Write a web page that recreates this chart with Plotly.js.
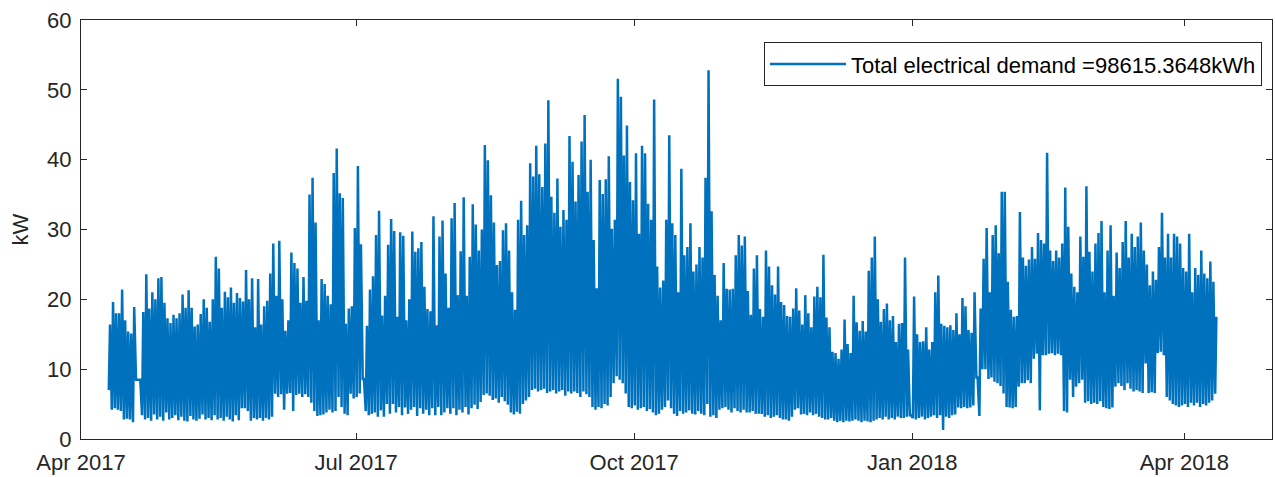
<!DOCTYPE html>
<html><head><meta charset="utf-8">
<script src="https://cdn.plot.ly/plotly-3.0.1.min.js"></script>
<style>html,body{margin:0;padding:0;background:#fff;} #chart{width:1275px;height:477px;}</style>
</head><body><div id="chart"></div>
<script>
// First day of the readings; one peak and one minimum value per day (kW)
const startDate = '2017-04-10';
const dailyPeak = [
16.4,19.6,18.0,18.0,21.4,17.0,15.4,15.1,18.9,
8.5,8.5,
18.2,23.6,18.7,21.0,20.0,23.0,23.2,19.5,17.3,16.6,
17.8,17.3,18.0,20.7,18.8,21.3,18.8,16.1,16.4,17.9,
20.0,18.8,16.8,20.0,26.1,24.4,18.8,21.1,20.3,21.7,
19.5,20.9,20.2,
19.7,24.2,20.0,23.0,16.0,22.9,16.4,
19.0,19.8,23.7,28.0,20.5,28.4,20.0,15.5,17.0,26.7,
25.2,24.4,19.5,23.2,19.8,35.0,37.4,31.0,17.0,22.9,
22.2,20.5,19.3,38.1,41.6,35.2,34.5,16.5,18.7,19.0,
30.2,39.1,27.9,
8.6,
16.2,21.4,23.3,29.2,32.7,
17.7,20.5,27.8,31.5,29.8,17.5,29.6,29.1,17.0,20.0,29.7,
26.8,27.3,28.2,21.8,18.6,18.3,31.9,16.3,29.0,31.3,
23.7,18.8,31.6,33.8,20.6,26.9,34.6,20.5,26.1,33.6,
30.7,27.0,30.0,42.1,39.9,34.9,31.0,24.9,25.5,29.9,
30.9,27.0,21.0,18.5,31.4,34.1,
29.2,30.6,39.5,37.6,42.0,37.9,36.1,42.3,48.5,34.7,
32.4,37.3,30.4,32.8,31.4,43.4,39.7,34.0,37.8,42.6,
46.4,35.4,40.0,28.5,21.6,37.1,35.1,37.2,40.5,30.1,
31.4,51.6,49.0,40.6,44.9,36.8,34.2,40.9,29.4,42.0,
40.9,33.7,31.4,48.6,24.7,21.7,
22.7,31.4,43.5,30.9,29.2,21.0,38.7,26.3,27.5,30.9,
24.0,25.0,27.5,26.0,37.4,52.8,32.6,23.5,20.5,17.0,
25.2,21.5,21.4,21.5,26.3,29.2,27.7,29.0,21.2,17.8,
24.4,26.3,18.6,17.5,27.0,24.7,22.0,20.7,24.7,19.6,
19.2,17.6,17.5,18.7,21.6,18.4,
16.4,20.6,18.0,16.0,20.4,21.8,20.3,26.4,17.4,16.0,
12.5,12.3,11.5,12.8,17.1,13.6,12.3,20.5,16.7,15.5,
16.9,15.4,24.1,26.0,29.0,20.0,16.8,18.6,19.4,17.0,
17.6,13.9,16.5,16.6,26.0,12.8,
3.4,
20.4,15.0,13.9,14.0,16.0,12.8,13.9,21.0,23.4,16.5,
16.2,16.0,16.3,15.6,18.0,15.0,20.2,19.0,15.6,15.2,21.0,
8.8,
18.7,25.8,30.2,21.0,29.2,30.6,26.6,35.4,35.4,22.5,
18.5,17.5,17.6,32.5,26.0,24.8,25.7,27.5,25.8,29.5,
28.5,28.0,41.0,27.0,25.5,27.0,26.0,28.0,36.0,30.4,
23.7,21.8,21.0,29.0,
26.1,36.2,26.8,24.0,28.0,29.5,31.2,21.0,27.0,30.6,
20.5,26.7,24.5,28.2,31.2,26.0,29.4,27.5,29.0,31.0,
27.0,25.0,22.0,24.0,22.8,27.5,32.4,26.0,29.4,26.0,
29.4,29.0,28.0,24.5,24.0,29.4,21.0,24.5,23.5,27.0,
23.7,23.0,25.4,22.5,17.5
];
const dailyMin = [
7.0,4.2,4.4,4.2,4.0,2.8,2.9,2.8,2.4,
8.5,8.5,
3.4,2.8,3.0,2.6,3.5,2.8,3.2,2.6,3.8,2.8,
3.0,3.4,2.7,3.2,2.6,2.5,3.3,2.8,2.6,2.9,
3.5,2.8,3.0,2.7,3.4,2.8,3.0,2.6,3.2,2.8,
2.5,3.4,2.7,
4.4,4.4,4.0,2.6,3.0,2.8,3.0,
2.6,3.0,2.8,3.2,6.5,6.0,6.4,4.2,6.5,6.6,
4.0,6.3,6.5,6.0,6.4,6.0,5.2,4.0,3.3,3.4,
3.5,3.8,4.2,3.8,4.0,6.0,4.6,3.6,3.4,6.5,
5.8,6.0,6.5,
8.6,
4.0,3.4,3.6,3.8,3.2,
4.1,3.2,5.0,3.6,5.0,3.8,4.6,3.4,4.5,3.6,4.2,
4.6,3.3,4.4,3.6,4.2,3.4,4.4,3.4,4.6,3.4,
3.8,4.4,3.6,4.4,3.4,4.2,3.8,4.6,3.5,4.4,
4.9,4.3,5.3,6.3,6.5,6.2,5.6,5.8,5.2,6.0,
5.4,4.9,3.8,3.5,3.9,3.6,
5.0,5.5,6.0,7.0,7.2,6.8,7.0,7.2,6.6,6.8,
7.0,6.5,6.8,7.0,6.2,6.8,6.5,6.8,6.6,6.0,
6.8,6.4,6.0,4.6,4.2,4.6,4.4,5.0,4.8,6.0,
8.0,9.0,8.5,8.0,6.5,4.6,4.4,4.8,4.2,4.4,
4.6,4.0,4.3,3.8,3.4,3.6,
4.2,4.6,5.5,4.4,3.6,3.3,4.0,3.6,3.8,4.1,
3.6,3.5,4.0,3.6,3.4,5.0,3.2,3.4,3.0,4.2,
4.4,4.6,4.2,3.8,4.4,4.0,3.8,4.2,3.8,3.8,
4.0,3.6,3.6,3.6,3.2,3.4,3.0,3.2,3.4,3.0,
2.8,2.8,2.6,3.2,4.2,4.4,
3.5,3.6,3.4,3.8,3.4,3.6,3.2,3.0,2.8,2.8,
3.0,2.6,2.4,2.6,2.4,2.6,2.5,2.6,2.8,2.6,
2.4,2.6,2.5,2.4,2.6,2.8,3.0,2.8,3.2,2.8,
3.0,2.8,3.2,3.0,3.0,3.2,
3.4,
3.0,2.8,3.0,3.2,2.8,3.0,3.2,3.4,3.0,3.4,
1.3,3.2,3.0,3.4,3.5,4.5,4.4,4.6,4.4,4.5,4.8,
8.8,
3.3,10.0,10.0,8.6,8.8,8.2,8.0,7.6,6.5,4.6,
4.5,4.4,4.6,7.5,8.0,8.0,8.4,8.0,11.5,12.2,
4.1,12.0,12.0,12.2,12.3,12.0,12.2,12.0,4.0,3.8,
8.5,6.0,7.5,8.0,
8.5,5.2,5.4,5.0,5.2,5.0,5.4,4.6,4.4,4.3,
4.5,7.5,8.0,7.6,7.0,8.0,7.2,6.8,7.0,6.8,
6.6,10.8,6.6,6.7,6.6,12.3,12.5,12.0,6.0,5.5,
5.0,4.8,4.6,4.8,5.0,4.6,5.2,4.8,5.2,4.6,
5.0,4.8,5.2,5.5,6.5
];
const tickDates = ['2017-04-01','2017-07-01','2017-10-01','2018-01-01','2018-04-01'];
const tickLabels = ['Apr 2017','Jul 2017','Oct 2017','Jan 2018','Apr 2018'];
const seriesName = 'Total electrical demand =98615.3648kWh';
const yLabel = 'kW';

const DAY = 86400000;
const t0 = Date.parse(startDate + 'T00:00:00Z');
function iso(ms){ return new Date(ms).toISOString().replace('T',' ').slice(0,19); }
const xs = [], ys = [];
for (let i = 0; i < dailyPeak.length; i++) {
  xs.push(iso(t0 + i*DAY + 0.2*DAY)); ys.push(dailyMin[i]);
  xs.push(iso(t0 + i*DAY + 0.6*DAY)); ys.push(dailyPeak[i]);
}

const axisColor = '#262626';
const fontFam = 'Arial, "Liberation Sans", Helvetica, sans-serif';

const trace = {
  type: 'scatter', mode: 'lines', x: xs, y: ys, name: seriesName,
  line: {color: '#0072BD', width: 2.5}
};

const layout = {
  width: 1275, height: 477,
  margin: {l: 81, r: 3, t: 20, b: 38, pad: 0},
  paper_bgcolor: '#ffffff', plot_bgcolor: '#ffffff',
  font: {family: fontFam, size: 22, color: axisColor},
  showlegend: true,
  legend: {
    x: 0.9916, xanchor: 'right', y: 0.947, yanchor: 'top',
    bordercolor: axisColor, borderwidth: 1, bgcolor: '#ffffff',
    itemwidth: 76, tracegroupgap: 0,
    font: {family: fontFam, size: 22, color: '#000000'}
  },
  xaxis: {
    type: 'date', range: ['2017-04-01', '2018-04-30'],
    tickmode: 'array', tickvals: tickDates, ticktext: tickLabels,
    ticks: 'inside', ticklen: 6, tickcolor: axisColor, tickwidth: 1,
    ticklabelstandoff: 4,
    showline: true, linecolor: axisColor, linewidth: 1, mirror: 'ticks',
    showgrid: false, zeroline: false,
    tickfont: {family: fontFam, size: 22, color: axisColor}
  },
  yaxis: {
    range: [0, 60], tick0: 0, dtick: 10,
    ticks: 'inside', ticklen: 6, tickcolor: axisColor, tickwidth: 1,
    ticklabelstandoff: 4,
    showline: true, linecolor: axisColor, linewidth: 1, mirror: 'ticks',
    showgrid: false, zeroline: false,
    tickfont: {family: fontFam, size: 22, color: axisColor},
    title: {text: yLabel, standoff: 12, font: {family: fontFam, size: 22, color: axisColor}}
  }
};

Plotly.newPlot('chart', [trace], layout, {displayModeBar: false, staticPlot: true});
</script>
</body></html>
